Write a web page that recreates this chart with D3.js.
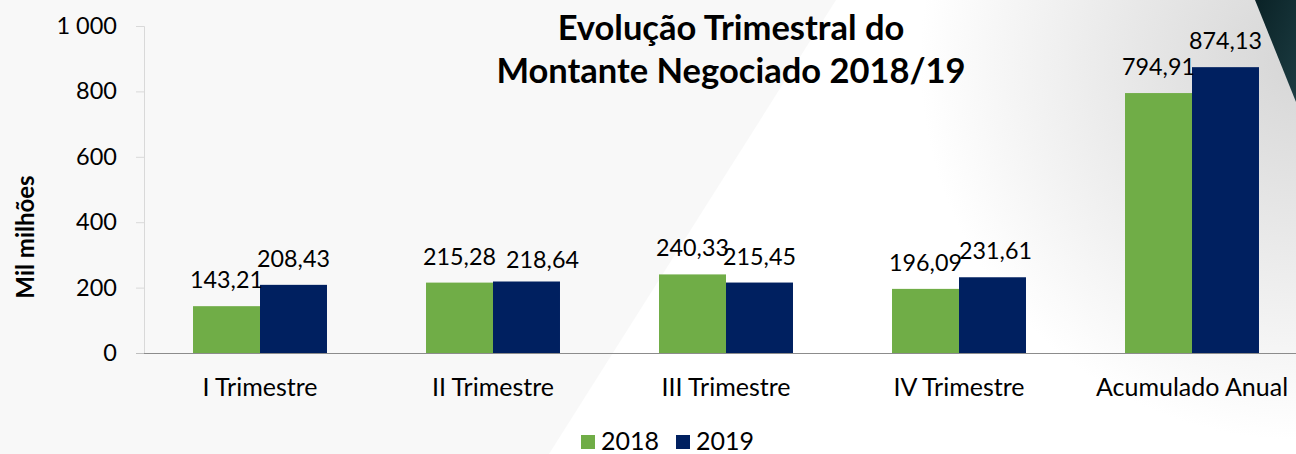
<!DOCTYPE html>
<html><head><meta charset="utf-8">
<script src="https://cdn.jsdelivr.net/npm/d3@7"></script>
<style>html,body{margin:0;padding:0;background:#f8f8f8;}svg{display:block;font-family:Lato,"Open Sans",sans-serif;}</style>
</head><body><svg id="c" width="1296" height="454"></svg>
<script>
const categories = ["I Trimestre","II Trimestre","III Trimestre","IV Trimestre","Acumulado Anual"];
const series = ["2018","2019"];
const values2018 = [143.21, 215.28, 240.33, 196.09, 794.91];
const values2019 = [208.43, 218.64, 215.45, 231.61, 874.13];
const labels2018 = ["143,21","215,28","240,33","196,09","794,91"];
const labels2019 = ["208,43","218,64","215,45","231,61","874,13"];
const yTicks = [0,200,400,600,800,1000];
const colors = ["#70ad47","#002060"];

const svg = d3.select("#c");
const W = 1296, H = 454;

// background
const defs = svg.append("defs");
const rg = defs.append("radialGradient").attr("id","rg").attr("gradientUnits","userSpaceOnUse")
  .attr("cx",1300).attr("cy",60).attr("r",380);
rg.append("stop").attr("offset",0).attr("stop-color","#d6d6d6");
rg.append("stop").attr("offset",0.45).attr("stop-color","#e8e8e8");
rg.append("stop").attr("offset",1).attr("stop-color","#ffffff");
const tg = defs.append("linearGradient").attr("id","tg").attr("x1",0).attr("y1",0).attr("x2",1).attr("y2",1);
tg.append("stop").attr("offset",0).attr("stop-color","#0a2226");
tg.append("stop").attr("offset",1).attr("stop-color","#1c3c42");
svg.append("rect").attr("width",W).attr("height",H).attr("fill","#f8f8f8");
svg.append("path").attr("d",`M836,0 L${W},0 L${W},${H} L549,${H} Z`).attr("fill","url(#rg)");
svg.append("path").attr("d",`M1255,0 L${W},0 L${W},102 Z`).attr("fill","url(#tg)");

const y = d3.scaleLinear().domain([0,1000]).range([353,26]);
const x0 = d3.scaleBand().domain(categories).range([143.5,1308.5]).paddingInner(0.425).paddingOuter(0.2125);
const x1 = d3.scaleBand().domain(series).range([0,x0.bandwidth()]);

// y axis
const yAxis = d3.axisLeft(y).tickValues(yTicks).tickSize(8).tickPadding(19)
  .tickFormat(d => d3.format(",")(d).replace(/,/g," "));
const ga = svg.append("g").attr("transform","translate(144,0)").call(yAxis);
ga.select(".domain").attr("stroke","#d9d9d9");
ga.selectAll(".tick line").attr("stroke","#d9d9d9");
ga.selectAll(".tick text").attr("font-size",23.5).attr("fill","#000").attr("font-family","Lato");

// bars
const data = categories.map((c,i)=>({c, v:[values2018[i],values2019[i]], l:[labels2018[i],labels2019[i]]}));
const g = svg.append("g");
data.forEach(d=>{
  series.forEach((s,j)=>{
    g.append("rect").attr("x",x0(d.c)+x1(s)).attr("y",y(d.v[j]))
      .attr("width",x1.bandwidth()).attr("height",y(0)-y(d.v[j]))
      .attr("fill",colors[j]);
  });
});
// x axis line
svg.append("line").attr("x1",144).attr("x2",W).attr("y1",353.5).attr("y2",353.5).attr("stroke","#8c8c8c").attr("stroke-width",1.2);
svg.append("line").attr("x1",136).attr("x2",144).attr("y1",353.5).attr("y2",353.5).attr("stroke","#bfbfbf");

// data labels (small layout nudges where labels would collide, as in the original)
const nudge = {"II Trimestre|2019":[16,4], "IV Trimestre|2019":[3,0]};
data.forEach(d=>{
  series.forEach((s,j)=>{
    const n = nudge[d.c+"|"+s] || [0,0];
    svg.append("text").attr("x",x0(d.c)+x1(s)+x1.bandwidth()/2+n[0]).attr("y",y(d.v[j])-18+n[1])
      .attr("text-anchor","middle").attr("font-size",23.3).attr("fill","#000").text(d.l[j]);
  });
});

// category labels
categories.forEach(c=>{
  svg.append("text").attr("x",x0(c)+x0.bandwidth()/2).attr("y",396).attr("text-anchor","middle")
    .attr("font-size",25).attr("fill","#000").text(c);
});

// title
svg.append("text").attr("x",731).attr("y",40).attr("text-anchor","middle").attr("font-size",34.5).attr("font-weight","bold").text("Evolução Trimestral do");
svg.append("text").attr("x",731).attr("y",83).attr("text-anchor","middle").attr("font-size",34.5).attr("font-weight","bold").text("Montante Negociado 2018/19");

// y title
svg.append("text").attr("transform","translate(34,237) rotate(-90)").attr("text-anchor","middle")
  .attr("font-size",24).attr("font-weight","bold").text("Mil milhões");

// legend
const legX = [581, 676];
series.forEach((s,j)=>{
  svg.append("rect").attr("x",legX[j]).attr("y",435).attr("width",14).attr("height",14).attr("fill",colors[j]);
  svg.append("text").attr("x",legX[j]+20).attr("y",450).attr("font-size",25).text(s);
});
</script></body></html>
